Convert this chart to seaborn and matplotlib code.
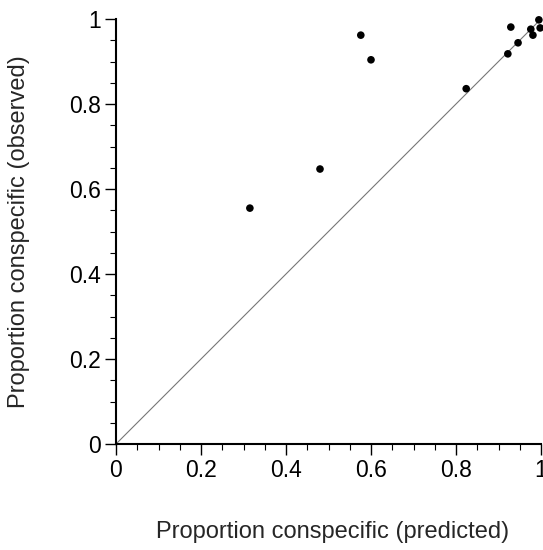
import matplotlib
matplotlib.use("Agg")
import matplotlib.pyplot as plt
import seaborn as sns
import pandas as pd
import numpy as np
from matplotlib.ticker import MultipleLocator

predicted = [0.315, 0.480, 0.576, 0.600, 0.824, 0.922, 0.929, 0.946, 0.976, 0.981, 0.995, 0.998]
observed  = [0.555, 0.647, 0.962, 0.904, 0.836, 0.918, 0.981, 0.944, 0.976, 0.962, 0.998, 0.979]
tick_vals = [0, 0.2, 0.4, 0.6, 0.8, 1]
tick_labels = ["0", "0.2", "0.4", "0.6", "0.8", "1"]

df = pd.DataFrame({"predicted": predicted, "observed": observed})

sns.set_style("white")
plt.rcParams['font.family'] = ['Liberation Sans', 'DejaVu Sans']

fig = plt.figure(figsize=(5.43, 5.50), dpi=100)
ax = fig.add_axes([116/543, 106/550, 425/543, 425/550])

ax.plot([0, 1], [0, 1], color="#777777", lw=0.8, zorder=1)
sns.scatterplot(data=df, x="predicted", y="observed", ax=ax, color="black",
                s=30, edgecolor="none", zorder=3, clip_on=False)

ax.set_xlim(0, 1)
ax.set_ylim(0, 1)
ax.set_xticks(tick_vals)
ax.set_xticklabels(tick_labels)
ax.set_yticks(tick_vals)
ax.set_yticklabels(tick_labels)
ax.xaxis.set_minor_locator(MultipleLocator(0.05))
ax.yaxis.set_minor_locator(MultipleLocator(0.05))
ax.tick_params(which="major", direction="out", length=8, width=1.0, labelsize=16.5, colors="black",
               bottom=True, left=True, pad=3)
ax.tick_params(which="minor", direction="out", length=4.3, width=0.8, colors="black",
               bottom=True, left=True)
for s in ["top", "right"]:
    ax.spines[s].set_visible(False)
for s in ["left", "bottom"]:
    ax.spines[s].set_linewidth(1.5)
    ax.spines[s].set_color("black")

ax.set_xlabel("Proportion conspecific (predicted)", fontsize=17)
ax.set_ylabel("Proportion conspecific (observed)", fontsize=17)
ax.xaxis.set_label_coords(0.51, -88/425)
ax.xaxis.label.set_va("center")
ax.yaxis.set_label_coords(-97/425, 0.5)
ax.yaxis.label.set_va("center")

fig.savefig("out.png", dpi=100)
